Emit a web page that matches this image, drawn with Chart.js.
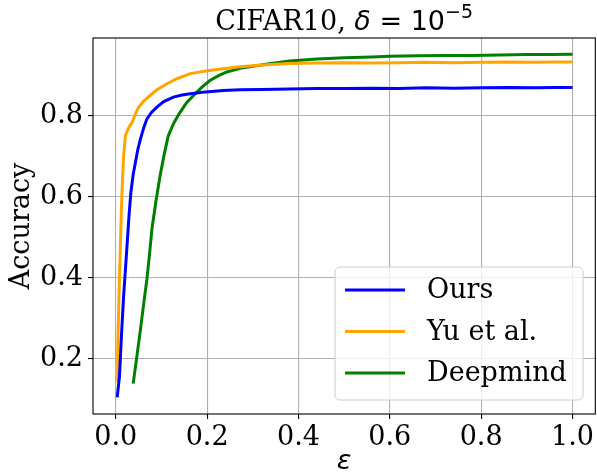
<!DOCTYPE html>
<html>
<head>
<meta charset="utf-8">
<script src="https://cdn.jsdelivr.net/npm/chart.js@4.4.1/dist/chart.umd.min.js"></script>
<style>
    body { margin: 0; background: #fff; }
    canvas { display: block; }
</style>
</head>
<body>
<canvas id="chart" width="597" height="474"></canvas>
<script>
// values
const oursEps = [0.003, 0.005, 0.008, 0.012, 0.017, 0.021, 0.025, 0.029, 0.033, 0.038, 0.043, 0.048, 0.054, 0.061, 0.068, 0.078, 0.090, 0.105, 0.126, 0.145, 0.163, 0.19, 0.235, 0.272, 0.32, 0.38, 0.44, 0.5, 0.56, 0.62, 0.68, 0.74, 0.8, 0.86, 0.92, 0.96, 1.0];
const oursAcc = [0.104, 0.125, 0.156, 0.25, 0.354, 0.42, 0.487, 0.555, 0.611, 0.655, 0.685, 0.716, 0.743, 0.770, 0.792, 0.808, 0.821, 0.835, 0.846, 0.851, 0.854, 0.858, 0.862, 0.864, 0.865, 0.866, 0.867, 0.867, 0.868, 0.867, 0.869, 0.868, 0.869, 0.870, 0.869, 0.870, 0.870];

const yuEps = [0.003, 0.004, 0.006, 0.008, 0.010, 0.012, 0.014, 0.017, 0.021, 0.028, 0.036, 0.043, 0.050, 0.060, 0.075, 0.09, 0.112, 0.135, 0.163, 0.2, 0.235, 0.272, 0.32, 0.38, 0.44, 0.5, 0.56, 0.62, 0.68, 0.74, 0.8, 0.86, 0.92, 0.96, 1.0];
const yuAcc = [0.144, 0.22, 0.313, 0.40, 0.478, 0.56, 0.627, 0.70, 0.751, 0.770, 0.784, 0.805, 0.821, 0.835, 0.850, 0.864, 0.879, 0.892, 0.904, 0.911, 0.916, 0.921, 0.925, 0.929, 0.930, 0.931, 0.930, 0.931, 0.932, 0.931, 0.932, 0.933, 0.932, 0.933, 0.933];

const dmEps = [0.038, 0.046, 0.054, 0.061, 0.068, 0.074, 0.079, 0.088, 0.097, 0.106, 0.115, 0.127, 0.141, 0.155, 0.170, 0.188, 0.206, 0.225, 0.243, 0.272, 0.30, 0.34, 0.38, 0.44, 0.5, 0.56, 0.6, 0.66, 0.72, 0.78, 0.84, 0.9, 0.95, 1.0];
const dmAcc = [0.138, 0.205, 0.272, 0.335, 0.396, 0.46, 0.520, 0.59, 0.652, 0.705, 0.751, 0.782, 0.809, 0.832, 0.850, 0.870, 0.887, 0.899, 0.908, 0.917, 0.922, 0.929, 0.935, 0.940, 0.943, 0.945, 0.947, 0.948, 0.949, 0.949, 0.950, 0.951, 0.951, 0.952];

const seriesNames = ["Ours", "Yu et al.", "Deepmind"];
const seriesColors = ["#0000ff", "#ffa500", "#008000"];
const xTicks = [0.0, 0.2, 0.4, 0.6, 0.8, 1.0];
const yTicks = [0.2, 0.4, 0.6, 0.8];

const SERIF = "'DejaVu Serif', serif";
const SANS = "'DejaVu Sans', sans-serif";
const FS = 27;

const toPoints = (xs, ys) => xs.map((x, i) => ({ x: x, y: ys[i] }));

// frame, legend, title and axis labels
const decorPlugin = {
    id: "decor",
    afterDraw(chart) {
        const ctx = chart.ctx;
        const a = chart.chartArea;
        ctx.save();

        // spines
        ctx.strokeStyle = "#000";
        ctx.lineWidth = 1.1;
        ctx.strokeRect(a.left, a.top, a.right - a.left, a.bottom - a.top);

        // legend box
        const bx = 335, by = 267, bw = 248, bh = 133, r = 5;
        ctx.beginPath();
        ctx.moveTo(bx + r, by);
        ctx.arcTo(bx + bw, by, bx + bw, by + bh, r);
        ctx.arcTo(bx + bw, by + bh, bx, by + bh, r);
        ctx.arcTo(bx, by + bh, bx, by, r);
        ctx.arcTo(bx, by, bx + bw, by, r);
        ctx.closePath();
        ctx.fillStyle = "rgba(255,255,255,0.8)";
        ctx.fill();
        ctx.strokeStyle = "#cccccc";
        ctx.lineWidth = 1;
        ctx.stroke();

        ctx.font = FS + "px " + SERIF;
        ctx.textBaseline = "middle";
        ctx.textAlign = "left";
        chart.data.datasets.forEach((ds, i) => {
            const ly = 290 + i * 41.5;
            ctx.strokeStyle = ds.borderColor;
            ctx.lineWidth = 3;
            ctx.beginPath();
            ctx.moveTo(345, ly);
            ctx.lineTo(405, ly);
            ctx.stroke();
            ctx.fillStyle = "#000";
            ctx.fillText(ds.label, 427, ly + 1);
        });

        // title: CIFAR10, δ = 10^-5
        ctx.fillStyle = "#000";
        ctx.textBaseline = "alphabetic";
        const parts = [
            { t: "CIFAR10, ", f: FS + "px " + SERIF, dy: 0 },
            { t: "\u03B4", f: "italic " + FS + "px " + SANS, dy: 0 },
            { t: " = 10", f: FS + "px " + SANS, dy: 0 },
            { t: "\u22125", f: "19px " + SANS, dy: -12 }
        ];
        let total = 0;
        parts.forEach(p => { ctx.font = p.f; p.w = ctx.measureText(p.t).width; total += p.w; });
        let tx = (a.left + a.right) / 2 - total / 2;
        parts.forEach(p => {
            ctx.font = p.f;
            ctx.fillText(p.t, tx, 30 + p.dy);
            tx += p.w;
        });

        // x label
        ctx.font = "italic " + FS + "px " + SANS;
        ctx.textAlign = "center";
        ctx.textBaseline = "middle";
        ctx.fillText("\u03B5", (a.left + a.right) / 2, 462);

        // y label
        ctx.translate(22, (a.top + a.bottom) / 2);
        ctx.rotate(-Math.PI / 2);
        ctx.font = FS + "px " + SERIF;
        ctx.fillText("Accuracy", 0, 0);

        ctx.restore();
    }
};

const gridStyle = {
    color: "#b0b0b0",
    lineWidth: 1.1,
    tickColor: "#000",
    tickLength: 5,
    drawTicks: true
};

new Chart(document.getElementById("chart").getContext("2d"), {
    type: "line",
    data: {
        datasets: [
            { label: seriesNames[0], data: toPoints(oursEps, oursAcc), borderColor: seriesColors[0] },
            { label: seriesNames[1], data: toPoints(yuEps, yuAcc), borderColor: seriesColors[1] },
            { label: seriesNames[2], data: toPoints(dmEps, dmAcc), borderColor: seriesColors[2] }
        ]
    },
    options: {
        responsive: false,
        animation: false,
        layout: { padding: { top: 38, right: 1, left: 0, bottom: 0 } },
        elements: {
            point: { radius: 0 },
            line: { borderWidth: 3, tension: 0, fill: false, borderCapStyle: "butt" }
        },
        plugins: {
            legend: { display: false },
            title: { display: false },
            tooltip: { enabled: false }
        },
        scales: {
            x: {
                type: "linear",
                min: -0.05,
                max: 1.05,
                afterBuildTicks: scale => { scale.ticks = xTicks.map(v => ({ value: v })); },
                afterFit: scale => { scale.height = 60; },
                grid: gridStyle,
                border: { display: false },
                ticks: {
                    color: "#000",
                    padding: 3,
                    maxRotation: 0,
                    font: { family: SERIF, size: FS },
                    callback: value => value.toFixed(1)
                }
            },
            y: {
                type: "linear",
                min: 0.063,
                max: 0.992,
                afterBuildTicks: scale => { scale.ticks = yTicks.map(v => ({ value: v })); },
                afterFit: scale => { scale.width = 93; },
                grid: gridStyle,
                border: { display: false },
                ticks: {
                    color: "#000",
                    padding: 5,
                    font: { family: SERIF, size: FS },
                    callback: value => value.toFixed(1)
                }
            }
        }
    },
    plugins: [decorPlugin]
});
</script>
</body>
</html>
